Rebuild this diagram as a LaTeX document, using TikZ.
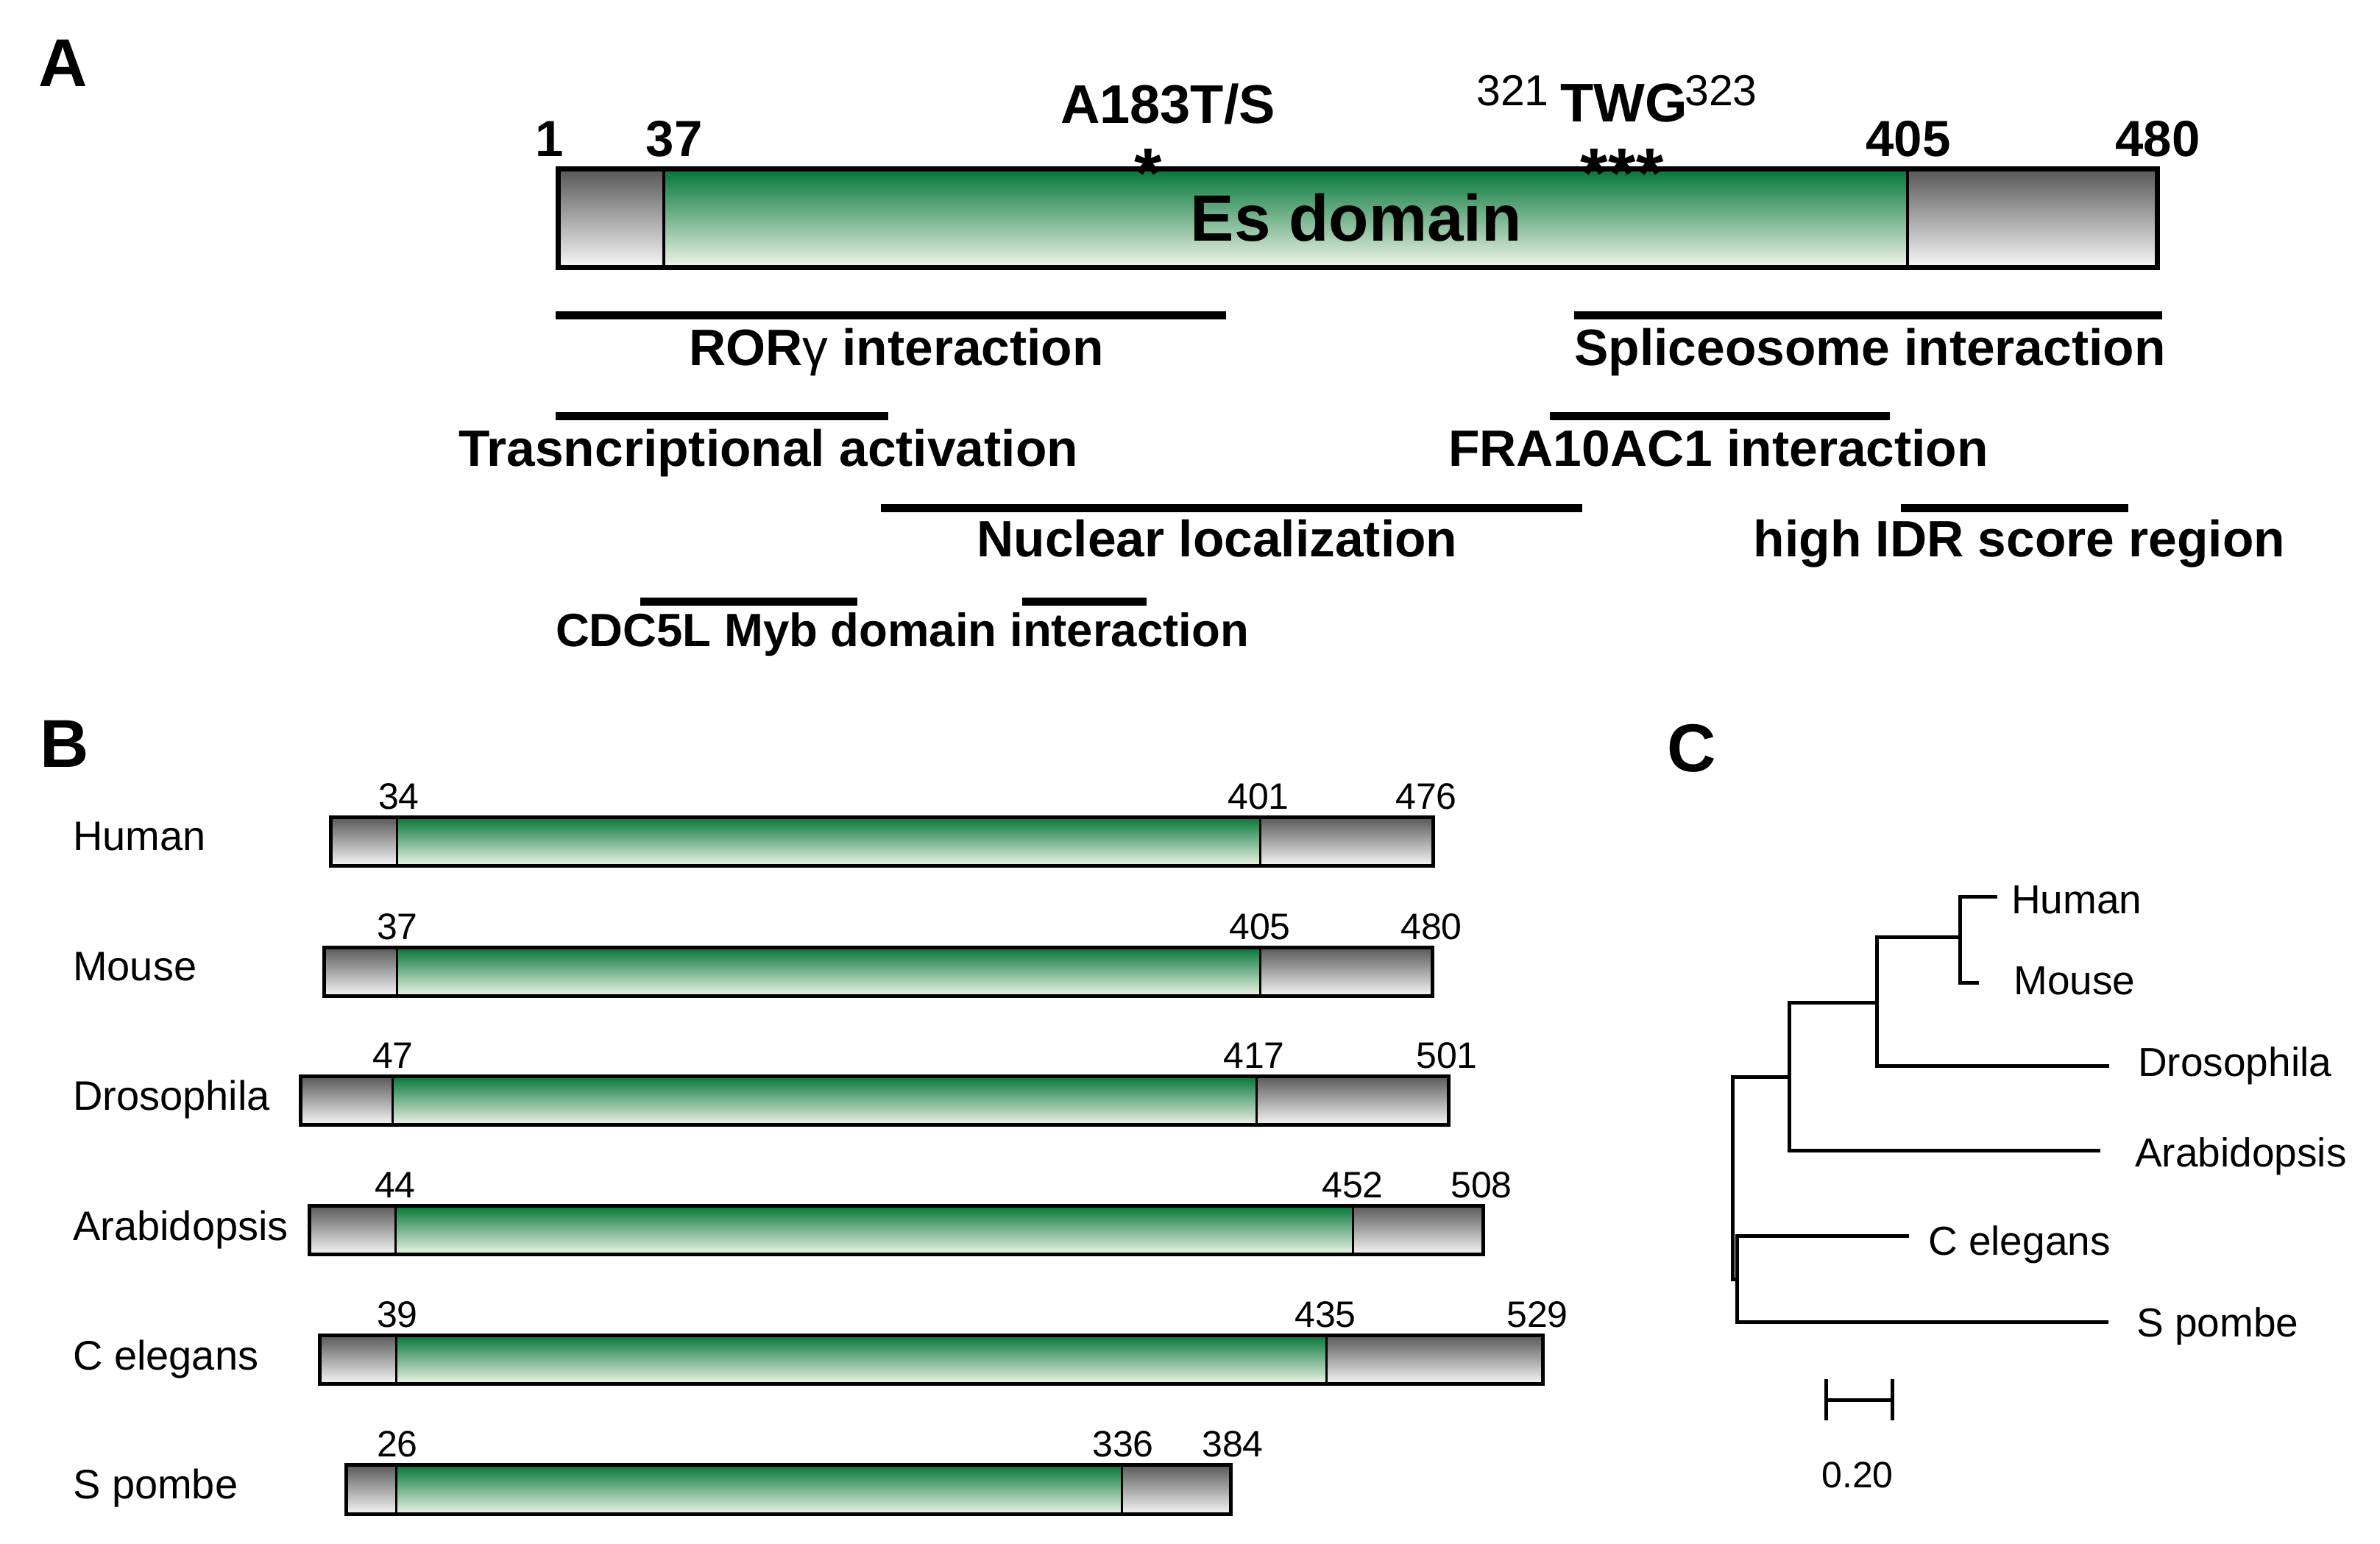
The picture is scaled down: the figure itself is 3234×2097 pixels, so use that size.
\documentclass[tikz,border=0pt]{standalone}
\usepackage{fontspec}
\setmainfont{Liberation Sans}
\newcommand\fsz[1]{\fontsize{#1}{#1}\selectfont}
\definecolor{gtop}{RGB}{85,85,85}
\definecolor{gmid}{RGB}{155,155,155}
\definecolor{gbot}{RGB}{248,248,248}
\definecolor{ntop}{RGB}{0,116,52}
\definecolor{nmid}{RGB}{120,158,112}
\definecolor{nbot}{RGB}{242,245,234}
\tikzset{
  lbl/.style={inner sep=0pt, font=\fsz{69.5}\bfseries, anchor=base},
  posnum/.style={inner sep=0pt, font=\fsz{69}\bfseries, anchor=base},
  bnum/.style={inner sep=0pt, font=\fsz{50}, anchor=base},
  spname/.style={inner sep=0pt, font=\fsz{56}, anchor=base west},
  leafname/.style={inner sep=0pt, font=\fsz{55}, anchor=base west},
  panel/.style={inner sep=0pt, font=\fsz{92}\bfseries, anchor=base west},
  astx/.style={inner sep=0pt, font=\fsz{96}\bfseries, anchor=base},
  iline/.style={line width=11pt},
  tline/.style={line width=5pt, line cap=rect},
  grayfill/.style={top color=gtop, middle color=gmid, bottom color=gbot},
  greenfill/.style={top color=ntop, middle color=nmid, bottom color=nbot},
}
% #1 L, #2 d1, #3 d2, #4 R, #5 top, #6 bottom, #7 border, #8 divider
\newcommand\pbar[8]{%
  \shade[grayfill] ({#1+2},{#5+2}) rectangle (#2,{#6-2});
  \shade[greenfill] (#2,{#5+2}) rectangle (#3,{#6-2});
  \shade[grayfill] (#3,{#5+2}) rectangle ({#4-2},{#6-2});
  \draw[line width=#8pt] (#2,{#5+2}) -- (#2,{#6-2}) (#3,{#5+2}) -- (#3,{#6-2});
  \draw[line width=#7pt] ({#1+3},{#5+3}) rectangle ({#4-3},{#6-3});
}
\begin{document}
\begin{tikzpicture}[x=1pt,y=-1pt]
\useasboundingbox (0,0) rectangle (3234,2097);

% ---------------- Panel A ----------------
\node[panel] (pA) at (52,117) {A};
\pbar{755}{902}{2592}{2934}{226}{366}{7}{4}
\node[inner sep=0pt, font=\fsz{89}\bfseries, anchor=base] (es) at (1843,327) {Es domain};

\node[posnum] (n1) at (747,212) {1};
\node[posnum] (n37) at (916,212) {37};
\node[posnum] (n405) at (2593,212) {405};
\node[posnum] (n480) at (2932,212) {480};

\node[inner sep=0pt, font=\fsz{74}\bfseries, anchor=base] (mut) at (1587,167) {A183T/S};
\node[astx] (ast1) at (1560,268) {*};
\node[astx] (ast2) at (2166,268) {*};
\node[astx] (ast3) at (2204,268) {*};
\node[astx] (ast4) at (2242,268) {*};

\node[inner sep=0pt, font=\fsz{59}, anchor=base west] (s321) at (2006,143) {321};
\node[inner sep=0pt, font=\fsz{74}\bfseries, anchor=base] (twg) at (2207,165) {TWG};
\node[inner sep=0pt, font=\fsz{59}, anchor=base west] (s323) at (2289,143) {323};

% interaction lines
\coordinate (r1) at (755,428);  \coordinate (r2) at (1666,428);
\coordinate (sp1) at (2139,428); \coordinate (sp2) at (2938,428);
\coordinate (t1) at (755,565);  \coordinate (t2) at (1207,565);
\coordinate (f1) at (2106,565); \coordinate (f2) at (2568,565);
\coordinate (nl1) at (1197,690); \coordinate (nl2) at (2150,690);
\coordinate (h1) at (2583,690); \coordinate (h2) at (2892,690);
\coordinate (c1) at (870,817);  \coordinate (c2) at (1165,817);
\coordinate (c3) at (1389,817); \coordinate (c4) at (1558,817);
\draw[iline] (r1) -- (r2);
\draw[iline] (sp1) -- (sp2);
\draw[iline] (t1) -- (t2);
\draw[iline] (f1) -- (f2);
\draw[iline] (nl1) -- (nl2);
\draw[iline] (h1) -- (h2);
\draw[iline] (c1) -- (c2);
\draw[iline] (c3) -- (c4);

\node[lbl] (lror) at (1218,496) {ROR{\mdseries γ} interaction};
\node[lbl] (lspl) at (2541,496) {Spliceosome interaction};
\node[lbl] (ltra) at (1044,633) {Trasncriptional activation};
\node[lbl] (lfra) at (2335,633) {FRA10AC1 interaction};
\node[lbl] (lnuc) at (1654,756) {Nuclear localization};
\node[lbl] (lidr) at (2744,756) {high IDR score region};
\node[lbl, font=\fsz{63.5}\bfseries] (lcdc) at (1226,878) {CDC5L Myb domain interaction};

% ---------------- Panel B ----------------
\node[panel] (pB) at (54,1042) {B};

\pbar{446}{539}{1712}{1950}{1107}{1179}{5}{3}
\pbar{437}{539}{1712}{1949}{1284}{1356}{5}{3}
\pbar{405}{533}{1707}{1971}{1459}{1531}{5}{3}
\pbar{417}{537}{1838}{2018}{1635}{1707}{5}{3}
\pbar{431}{538}{1802}{2099}{1811}{1883}{5}{3}
\pbar{467}{538}{1524}{1675}{1987}{2060}{5}{3}

\node[spname] (bhum) at (99,1155) {Human};
\node[spname] (bmou) at (99,1332) {Mouse};
\node[spname] (bdro) at (99,1508) {Drosophila};
\node[spname] (bara) at (99,1685) {Arabidopsis};
\node[spname] (bcel) at (99,1861) {C elegans};
\node[spname] (bspo) at (99,2036) {S pombe};

\node[bnum] (h34) at (542,1099) {34};
\node[bnum] (h401) at (1710,1099) {401};
\node[bnum] (h476) at (1938,1099) {476};
\node[bnum] (m37) at (540,1276) {37};
\node[bnum] (m405) at (1712,1276) {405};
\node[bnum] (m480) at (1945,1276) {480};
\node[bnum] (d47) at (534,1451) {47};
\node[bnum] (d417) at (1704,1451) {417};
\node[bnum] (d501) at (1966,1451) {501};
\node[bnum] (a44) at (537,1627) {44};
\node[bnum] (a452) at (1838,1627) {452};
\node[bnum] (a508) at (2013,1627) {508};
\node[bnum] (e39) at (540,1803) {39};
\node[bnum] (e435) at (1801,1803) {435};
\node[bnum] (e529) at (2089,1803) {529};
\node[bnum] (s26) at (540,1979) {26};
\node[bnum] (s336) at (1526,1979) {336};
\node[bnum] (s384) at (1675,1979) {384};

% ---------------- Panel C ----------------
\node[panel] (pC) at (2265,1048) {C};

\coordinate (hm) at (2663,1273);
\coordinate (hmd) at (2550,1362);
\coordinate (hmda) at (2431,1463);
\coordinate (root) at (2354,1600);
\coordinate (cs) at (2360,1738);
\coordinate (lh) at (2711,1218);
\coordinate (lm) at (2686,1335);
\coordinate (ld) at (2863,1448);
\coordinate (la) at (2851,1563);
\coordinate (lc) at (2591,1679);
\coordinate (ls) at (2862,1796);

\draw[tline] (lh) -| (hm) |- (lm);
\draw[tline] (hm) -- (hm -| hmd);
\draw[tline] (hm -| hmd) |- (ld);
\draw[tline] (hmd) -- (hmd -| hmda);
\draw[tline] (hmd -| hmda) |- (la);
\draw[tline] (hmda) -- (hmda -| root);
\draw[tline] (hmda -| root) -- (root |- cs) -- (cs);
\draw[tline] (lc) -| (cs) |- (ls);

\node[leafname] (thum) at (2733,1241) {Human};
\node[leafname] (tmou) at (2736,1351) {Mouse};
\node[leafname] (tdro) at (2905,1462) {Drosophila};
\node[leafname] (tara) at (2901,1585) {Arabidopsis};
\node[leafname] (tcel) at (2620,1705) {C elegans};
\node[leafname] (tspo) at (2903,1816) {S pombe};

\coordinate (sb1) at (2481,1902);
\coordinate (sb2) at (2571,1902);
\draw[tline, line cap=butt] (sb1) -- (sb2);
\draw[tline, line cap=butt] ([yshift=-28pt]sb1) -- ([yshift=28pt]sb1);
\draw[tline, line cap=butt] ([yshift=-28pt]sb2) -- ([yshift=28pt]sb2);
\node[inner sep=0pt, font=\fsz{50}, anchor=base] (sbl) at (2524,2021) {0.20};
\end{tikzpicture}
\end{document}
